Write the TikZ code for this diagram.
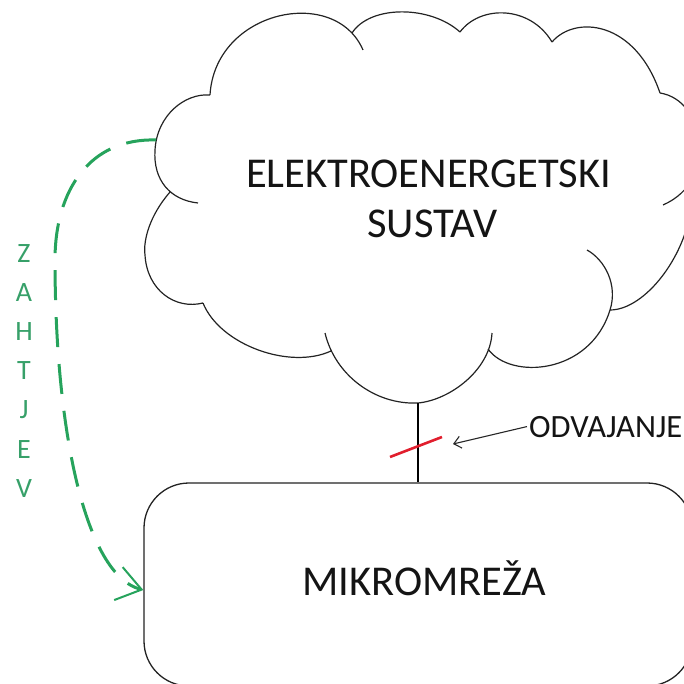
\documentclass[tikz,border=0pt]{standalone}
\usepackage{fontspec}
\setmainfont{Carlito}
\usetikzlibrary{arrows.meta,calc}
\definecolor{zgreen}{RGB}{38,163,92}
\definecolor{ztext}{RGB}{55,160,105}
\definecolor{lgray}{RGB}{35,35,35}
\definecolor{slashred}{RGB}{225,30,45}
\begin{document}
\begin{tikzpicture}[x=1pt,y=-1pt,
  cloudline/.style={line width=1.2pt, draw=lgray},
  boxline/.style={draw=lgray, line width=1.3pt, rounded corners=45pt, minimum width=548pt, minimum height=203pt, inner sep=0pt},
  bigtext/.style={font=\fontsize{42.5}{50}\selectfont, text=black!92, inner sep=0pt},
  odvtext/.style={font=\fontsize{32.5}{38}\selectfont, text=black!92},
  zlet/.style={font=\fontsize{28}{30}\selectfont, text=ztext, inner sep=0pt},
  zahtjev/.style={draw=zgreen, line width=3pt, dash pattern=on 30pt off 17pt, -{Straight Barb[length=24pt,width=34pt,line width=2pt]}},
  odvarrow/.style={draw=black!85, line width=1.1pt, -{Straight Barb[length=7pt,width=12pt]}},
  link/.style={draw=black, line width=2pt},
  slash/.style={draw=slashred, line width=2.6pt}
]
\useasboundingbox (0,0) rectangle (684,684);
\begin{scope}
\clip (0,0) rectangle (684,684);
% cloud lobes
\draw[cloudline]
  (210,95) .. controls (185,93) and (157,115) .. (155,150) .. controls (153,180) and (170,200) .. (198,203)
  (170,192) .. controls (150,215) and (143,240) .. (145,255) .. controls (147,290) and (175,310) .. (203,303)
  (203,303) .. controls (220,345) and (290,370) .. (331,351)
  (325,333) .. controls (335,375) and (375,405) .. (418,403) .. controls (450,400) and (490,370) .. (492,333)
  (488,349) .. controls (510,380) and (590,375) .. (610,310) .. controls (618,285) and (605,260) .. (587,250)
  (610,310) .. controls (645,310) and (688,255) .. (692,200)
  (660,93) .. controls (705,100) and (720,180) .. (663,205)
  (552,42) .. controls (575,15) and (635,20) .. (660,93)
  (460,32) .. controls (480,5) and (530,5) .. (552,42)
  (352,33) .. controls (370,5) and (430,5) .. (460,32)
  (210,95) .. controls (215,10) and (335,-15) .. (363,50);
\coordinate (ca) at (156,140);
\coordinate (cb) at (418,403);
\node[boxline] (mr) at (418,584.5) {};
\end{scope}
\node[bigtext, anchor=base] (es1) at (428.5,188) {ELEKTROENERGETSKI};
\node[bigtext, anchor=base] (es2) at (432.5,238) {SUSTAV};
\node[bigtext, anchor=base] (mrt) at (424.5,595) {MIKROMREŽA};
% link between cloud and microgrid
\draw[link] (cb) -- (mr.north);
\coordinate (s1) at (390,457);
\coordinate (s2) at (442,437);
\draw[slash] (s1) -- (s2);
\node[odvtext, anchor=base west, inner sep=2pt] (odv) at (527,437) {ODVAJANJE};
\coordinate (ot) at (453,444);
\draw[odvarrow] (odv.west) -- (ot);
% request arrow
\draw[zahtjev] (ca) .. controls (90,138) and (55,190) .. (55,260) .. controls (55,430) and (85,575) .. ($(mr.west)+(0,5.5)$);
\foreach \l [count=\i] in {Z,A,H,T,J,E,V}
  \node[zlet, anchor=base] (z\i) at (24,{262+39.2*(\i-1)}) {\l};
\end{tikzpicture}
\end{document}
